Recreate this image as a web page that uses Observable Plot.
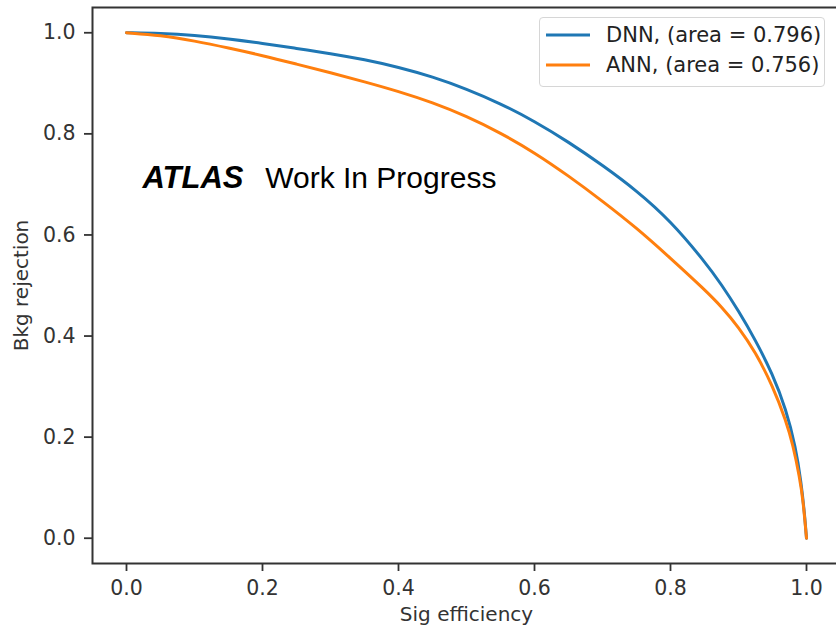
<!DOCTYPE html>
<html>
<head>
<meta charset="utf-8">
<script src="https://cdn.jsdelivr.net/npm/d3@7"></script>
<script src="https://cdn.jsdelivr.net/npm/@observablehq/plot@0.6"></script>
<style>
  html, body { margin: 0; padding: 0; background: #fff; overflow: hidden; }
  #wrap { position: relative; width: 836px; height: 631px; }
  #legend {
    position: absolute; left: 539px; top: 17px; width: 284px; height: 68px;
    border: 1px solid #d6d6d6; border-radius: 4px; background: rgba(255,255,255,0.85);
    font-family: "DejaVu Sans", sans-serif; font-size: 21px; color: #222;
  }
  .row { position: absolute; left: 6px; display: flex; align-items: center; }
  .row svg { margin-right: 16px; }
</style>
</head>
<body>
<div id="wrap"></div>
<script>
const seriesNames = ["DNN", "ANN"];
const seriesAreas = ["0.796", "0.756"];
const seriesColors = ["#1f77b4", "#ff7f0e"];

const dnnX = [0.00, 0.05, 0.10, 0.15, 0.20, 0.25, 0.30, 0.35, 0.40, 0.45, 0.50, 0.55, 0.60, 0.65, 0.70, 0.75, 0.80, 0.85, 0.875, 0.90, 0.925, 0.95, 0.97, 0.984, 0.992, 0.997, 1.00];
const dnnY = [1.000, 0.999, 0.995, 0.988, 0.979, 0.969, 0.959, 0.947, 0.932, 0.913, 0.889, 0.860, 0.825, 0.784, 0.738, 0.688, 0.628, 0.548, 0.502, 0.450, 0.392, 0.325, 0.255, 0.180, 0.112, 0.050, 0.000];

const annX = [0.00, 0.05, 0.10, 0.15, 0.20, 0.25, 0.30, 0.35, 0.40, 0.45, 0.50, 0.55, 0.60, 0.65, 0.70, 0.75, 0.80, 0.85, 0.875, 0.90, 0.925, 0.95, 0.97, 0.98, 0.99, 0.995, 1.00];
const annY = [1.000, 0.995, 0.984, 0.970, 0.955, 0.938, 0.921, 0.903, 0.884, 0.862, 0.835, 0.802, 0.763, 0.717, 0.667, 0.614, 0.554, 0.492, 0.458, 0.418, 0.368, 0.302, 0.232, 0.185, 0.120, 0.075, 0.000];

const xTicks = [0.0, 0.2, 0.4, 0.6, 0.8, 1.0];
const yTicks = [0.0, 0.2, 0.4, 0.6, 0.8, 1.0];
const xLabel = "Sig efficiency";
const yLabel = "Bkg rejection";
const atlasLabel = "ATLAS";
const wipLabel = "Work In Progress";

const rows = [];
dnnX.forEach((x, i) => rows.push({series: "DNN", x, y: dnnY[i]}));
annX.forEach((x, i) => rows.push({series: "ANN", x, y: annY[i]}));

const axisColor = "#333";
const chart = Plot.plot({
  width: 836,
  height: 631,
  marginLeft: 92,
  marginTop: 7,
  marginBottom: 68,
  marginRight: -4,
  style: {fontFamily: "DejaVu Sans, sans-serif", color: axisColor, background: "white", overflow: "hidden"},
  x: {domain: [-0.05, 1.05]},
  y: {domain: [-0.05, 1.05]},
  color: {domain: seriesNames, range: seriesColors},
  marks: [
    Plot.line(rows, {x: "x", y: "y", z: "series", stroke: "series", strokeWidth: 3, curve: "basis"}),
    Plot.frame({stroke: axisColor, strokeWidth: 2}),
    Plot.axisX({ticks: xTicks, tickFormat: d3.format(".1f"), tickSize: 8, tickPadding: 9, fontSize: 20.5, label: null, stroke: axisColor, strokeWidth: 1.8, fill: axisColor}),
    Plot.axisY({ticks: yTicks, tickFormat: d3.format(".1f"), tickSize: 8, tickPadding: 9, fontSize: 20.5, label: null, stroke: axisColor, strokeWidth: 1.8, fill: axisColor}),
    Plot.text([xLabel], {text: d => d, frameAnchor: "bottom", dy: 51, textAnchor: "middle", lineAnchor: "middle", fontSize: 20, fill: axisColor}),
    Plot.text([yLabel], {text: d => d, frameAnchor: "left", rotate: -90, dx: -71, textAnchor: "middle", lineAnchor: "middle", fontSize: 20, fill: axisColor}),
    Plot.text([atlasLabel], {text: d => d, x: () => 0.0235, y: () => 0.692, textAnchor: "start", lineAnchor: "bottom", fontSize: 31, fontWeight: "bold", fontStyle: "italic", fontFamily: "Liberation Sans, Arial, sans-serif", fill: "#000"}),
    Plot.text([wipLabel], {text: d => d, x: () => 0.204, y: () => 0.692, textAnchor: "start", lineAnchor: "bottom", fontSize: 30, fontFamily: "Liberation Sans, Arial, sans-serif", fill: "#000"})
  ]
});

const wrap = document.getElementById("wrap");
wrap.appendChild(chart);

const legend = document.createElement("div");
legend.id = "legend";
seriesNames.forEach((name, i) => {
  const row = document.createElement("div");
  row.className = "row";
  row.style.top = (i === 0 ? 3 : 33) + "px";
  row.innerHTML = `<svg width="44" height="28"><line x1="0" x2="44" y1="14" y2="14" stroke="${seriesColors[i]}" stroke-width="3"/></svg><span>${name}, (area = ${seriesAreas[i]})</span>`;
  legend.appendChild(row);
});
wrap.appendChild(legend);
</script>
</body>
</html>
